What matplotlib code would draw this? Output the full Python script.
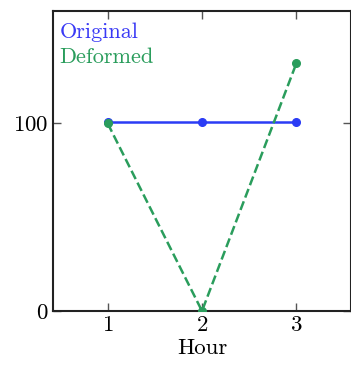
import matplotlib
matplotlib.use("Agg")
import matplotlib.pyplot as plt

plt.rcParams['font.family'] = ['cmr10', 'DejaVu Serif']
plt.rcParams['mathtext.fontset'] = 'cm'
plt.rcParams['axes.unicode_minus'] = False
plt.rcParams['axes.formatter.use_mathtext'] = True

hours = [1, 2, 3]
original = [101, 101, 101]
deformed = [100, 0, 132]
x_ticks = [1, 2, 3]
y_ticks = [0, 100]

fig = plt.figure(figsize=(3.51, 3.65), dpi=100)
ax = fig.add_axes([0.151, 0.148, 0.849, 0.822])

ax.plot(hours, original, '-', color='#2b3cf5', lw=1.8, marker='o', ms=5.5,
        label='Original', zorder=2)
ax.plot(hours, deformed, '--', color='#2a9d5c', lw=1.8, marker='o', ms=5.5,
        label='Deformed', zorder=3)

ax.set_xlim(0.42, 3.58)
ax.set_ylim(0, 160)
ax.set_xticks(x_ticks)
ax.set_yticks(y_ticks)
ax.tick_params(direction='in', top=True, right=True, length=6, width=1,
               labelsize=16.5, color='#555555')
ax.set_xlabel('Hour', fontsize=16.5, labelpad=2)
for s in ax.spines.values():
    s.set_color('#222222')
    s.set_linewidth(1.5)

leg = ax.legend(loc='upper left', bbox_to_anchor=(0.0, 0.983), frameon=False,
                handlelength=0, handletextpad=0, markerscale=0,
                fontsize=16, labelspacing=0.25, borderaxespad=0.1,
                borderpad=0.2)
for t, c in zip(leg.get_texts(), ['#3a3af5', '#2a9d5c']):
    t.set_color(c)

fig.savefig('out.png', dpi=100)
